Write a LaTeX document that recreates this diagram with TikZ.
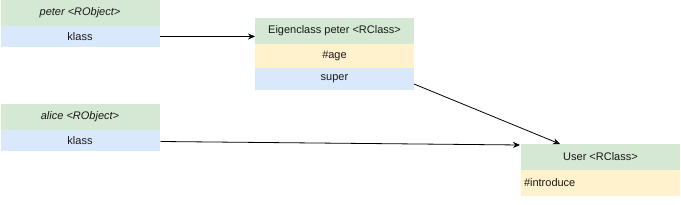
\documentclass[tikz,border=0pt]{standalone}
\usepackage{fontspec}
\setmainfont{Liberation Sans}
\usetikzlibrary{positioning,calc,arrows.meta}
\definecolor{headgreen}{HTML}{D5E8D4}
\definecolor{rowblue}{HTML}{DAE8FC}
\definecolor{rowyellow}{HTML}{FFF2CC}
\tikzset{
  cell/.style={minimum width=159pt,inner sep=0pt,outer sep=0pt,
    font=\fontsize{11}{13}\selectfont,text=black!90},
  headcell/.style={cell,fill=headgreen,minimum height=26pt},
  refcell/.style={cell,fill=rowblue,minimum height=21pt},
  methcell/.style={cell,fill=rowyellow,minimum height=24pt},
  link/.style={-{Stealth[length=7pt,width=6pt]},line width=0.8pt},
}
\begin{document}
\begin{tikzpicture}[x=1pt,y=1pt]
\useasboundingbox (0,0) rectangle (681,-205);
%
% --- Objekte ---
\node[headcell,anchor=north west] (phead) at (0.5,0) {\itshape peter <RObject>};
\node[refcell,below=0pt of phead] (pklass) {klass};
%
\node[headcell,anchor=north west] (ahead) at (0.5,-104) {\itshape alice <RObject>};
\node[refcell,below=0pt of ahead] (aklass) {klass};
%
% --- Klassen ---
\node[headcell,anchor=north west] (ehead) at (255,-18) {Eigenclass peter <RClass>};
\node[methcell,below=0pt of ehead] (eage) {\#age};
\node[refcell,minimum height=22pt,below=0pt of eage] (esuper) {super};
%
\node[headcell,anchor=north west] (uhead) at (521,-144) {User <RClass>};
\node[methcell,minimum height=26pt,text width=153pt,align=left,below=0pt of uhead] (uintro) {\#introduce};
%
% --- Verweise ---
\draw[link] (pklass.east) -- (pklass.east -| ehead.west);
\draw[link] ($(esuper.east)+(0,-5)$) -- ($(uhead.north west)+(39,0)$);
\draw[link] ($(aklass.east)+(1,-1)$) -- ($(uhead.west)+(-1,12)$);
\end{tikzpicture}
\end{document}
